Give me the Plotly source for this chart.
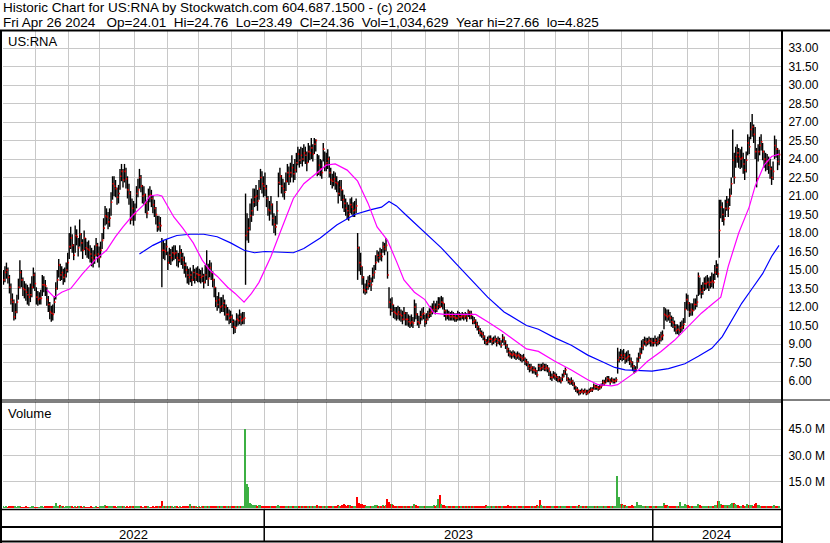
import pandas as pd
import plotly.graph_objects as go

# ---------------- data ----------------
# daily highs / lows / closes, one inner list per calendar month (May 2022 .. Apr 2024)
high_by_month = [
    [15.0, 15.3, 15.6, 15.2, 14.6, 13.9, 13.1, 12.6, 12.3, 13.0, 14.3, 15.8, 15.0, 14.4, 14.1, 13.9, 13.8, 13.6, 13.9, 14.5, 15.2, 14.8],
    [13.6, 13.3, 13.2, 13.4, 14.6, 14.5, 14.2, 13.6, 12.9, 12.4, 12.1, 12.2, 12.9, 14.0, 15.0, 15.9, 15.5, 15.3, 15.1, 15.2, 15.6, 16.4],
    [18.0, 18.5, 17.9, 17.1, 18.6, 18.3, 17.6, 19.1, 18.0, 17.5, 18.2, 17.6, 17.3, 17.4, 17.0, 16.8, 16.6, 17.0, 17.6, 17.2, 16.9],
    [17.3, 18.0, 19.2, 20.2, 20.0, 19.7, 20.0, 21.3, 22.6, 22.6, 22.3, 21.7, 21.9, 23.2, 23.6, 23.2, 23.6, 23.3, 22.6, 22.0, 21.4, 20.8, 20.6],
    [20.4, 21.8, 22.4, 23.2, 22.7, 21.9, 21.8, 21.2, 20.6, 21.6, 21.8, 21.5, 21.0, 20.7, 20.1, 19.4, 19.4, 19.3, 17.6, 17.4, 17.2, 17.5],
    [16.5, 16.8, 16.7, 16.9, 17.0, 17.0, 16.6, 16.4, 17.0, 16.7, 16.4, 16.1, 15.6, 15.3, 15.1, 15.2, 14.9, 15.4, 15.1, 15.2, 15.3],
    [15.1, 15.0, 15.2, 14.7, 15.4, 16.6, 15.5, 15.8, 15.6, 14.9, 14.3, 13.6, 12.9, 13.2, 12.8, 12.8, 13.0, 12.6, 12.2, 12.0, 11.8, 11.7],
    [11.4, 11.0, 10.9, 11.5, 11.4, 11.8, 11.5, 11.6, 11.6, 21.2, 19.6, 19.2, 20.4, 20.8, 21.6, 21.6, 21.9, 21.5, 22.3, 23.2, 23.0, 22.6],
    [22.9, 21.9, 21.0, 20.6, 21.0, 20.4, 19.6, 19.4, 20.6, 22.9, 23.3, 22.7, 22.4, 22.1, 22.9, 23.6, 23.4, 23.7, 24.3, 23.6, 24.0, 24.5],
    [25.0, 24.8, 25.0, 24.9, 25.2, 25.0, 24.6, 25.3, 25.1, 25.7, 25.2, 25.7, 25.6, 24.4, 24.3, 24.0, 23.9, 25.3, 24.6, 24.5],
    [24.8, 24.2, 23.3, 22.8, 23.0, 22.9, 22.6, 22.2, 22.3, 22.3, 21.5, 21.1, 20.8, 20.5, 20.3, 20.8, 20.9, 20.5, 20.6, 20.8, 18.0, 16.9, 16.4],
    [15.3, 14.5, 13.9, 14.2, 14.5, 14.6, 14.4, 15.2, 15.4, 16.2, 16.6, 16.5, 16.8, 16.7, 17.3, 17.2, 17.6, 16.5, 13.6, 12.7],
    [12.8, 12.2, 12.0, 12.0, 12.1, 12.0, 11.8, 11.7, 12.0, 11.6, 11.6, 11.4, 11.3, 11.4, 11.2, 12.6, 12.3, 11.5, 11.3, 11.7, 11.9, 12.0, 11.4],
    [11.5, 11.7, 11.9, 12.1, 12.3, 12.5, 12.3, 12.5, 12.8, 12.8, 12.9, 12.8, 12.3, 11.8, 11.8, 11.7, 11.6, 11.7, 11.6, 11.5, 11.5, 11.7],
    [11.6, 11.5, 11.6, 11.5, 11.6, 11.5, 11.8, 11.7, 11.7, 11.3, 11.2, 11.0, 10.8, 10.5, 10.3, 10.1, 10.0, 9.7, 9.4, 9.6, 9.7],
    [9.7, 9.5, 9.6, 9.7, 9.5, 9.6, 9.5, 9.3, 9.8, 9.6, 9.3, 9.0, 8.7, 8.5, 8.4, 8.5, 8.4, 8.3, 8.4, 8.3, 8.2, 8.1, 8.2],
    [7.9, 7.8, 7.6, 7.4, 7.4, 7.2, 7.2, 7.1, 6.9, 7.4, 7.4, 7.4, 7.5, 7.4, 7.4, 7.3, 7.1, 6.8, 6.6, 6.8, 6.7],
    [6.6, 6.4, 6.4, 6.3, 6.6, 6.9, 7.1, 6.6, 6.3, 6.2, 6.3, 6.1, 5.9, 5.6, 5.5, 5.3, 5.3, 5.4, 5.3, 5.4, 5.3, 5.3],
    [5.4, 5.5, 5.5, 5.8, 5.7, 5.7, 5.6, 5.7, 5.8, 6.1, 6.1, 6.3, 6.4, 6.4, 6.2, 6.3, 6.2, 6.2, 6.3, 8.7, 8.4, 8.6],
    [8.5, 8.6, 8.3, 8.4, 8.5, 8.2, 7.9, 7.6, 7.3, 7.2, 7.9, 8.3, 8.7, 9.3, 9.4, 9.6, 9.5, 9.5, 9.6, 9.5, 9.5],
    [9.5, 9.7, 9.5, 9.6, 9.8, 10.0, 10.1, 12.0, 11.9, 11.8, 11.8, 11.6, 11.3, 11.2, 10.9, 10.6, 10.6, 10.5, 10.8, 10.9, 11.1, 12.4, 13.1],
    [13.0, 12.4, 12.3, 12.3, 12.7, 12.7, 13.0, 14.8, 14.4, 13.8, 14.0, 14.4, 14.5, 14.6, 14.4, 14.5, 14.8, 14.7, 15.4, 15.8, 15.5],
    [20.7, 20.7, 20.5, 20.0, 20.7, 21.0, 20.8, 21.6, 22.5, 26.4, 24.5, 25.0, 25.2, 24.9, 24.8, 25.0, 24.5, 24.0, 24.6, 26.0, 25.8],
    [27.0, 27.66, 26.8, 26.6, 24.9, 25.2, 25.8, 26.0, 25.3, 24.7, 24.5, 24.4, 24.2, 24.0, 23.4, 23.8, 25.9, 25.6, 24.9, 24.76],
]
low_by_month = [
    [13.8, 14.0, 14.3, 13.9, 13.1, 12.2, 11.6, 10.9, 11.0, 11.5, 12.6, 13.5, 13.6, 12.9, 12.7, 12.5, 12.2, 12.1, 12.4, 12.8, 13.5, 13.3],
    [12.2, 12.1, 12.2, 12.2, 12.9, 13.2, 12.9, 12.1, 11.6, 11.0, 10.8, 10.9, 11.5, 12.6, 13.4, 14.4, 14.1, 14.2, 13.8, 14.0, 14.4, 14.8],
    [15.9, 16.7, 16.4, 15.8, 16.4, 17.0, 16.1, 16.9, 16.5, 15.9, 16.6, 16.2, 16.0, 15.9, 15.6, 15.3, 15.2, 15.5, 16.1, 15.6, 15.2],
    [16.0, 16.7, 17.5, 18.6, 18.7, 18.3, 18.5, 19.4, 20.7, 21.0, 20.9, 20.3, 20.4, 21.5, 22.2, 21.7, 22.1, 21.6, 20.8, 20.3, 18.7, 19.0, 18.6],
    [19.0, 20.0, 20.9, 21.6, 21.3, 20.4, 20.3, 19.6, 19.2, 19.8, 20.5, 20.1, 19.6, 19.3, 18.7, 18.1, 18.2, 18.1, 13.6, 15.9, 15.8, 16.2],
    [15.0, 15.5, 15.4, 15.7, 15.8, 15.9, 15.3, 15.2, 15.6, 15.4, 15.1, 14.7, 14.4, 13.9, 13.8, 14.0, 13.7, 14.1, 13.9, 14.1, 14.0],
    [14.0, 13.9, 14.0, 13.5, 13.9, 14.2, 13.7, 14.4, 14.2, 13.6, 12.8, 12.0, 11.7, 11.9, 11.5, 11.6, 11.6, 11.3, 10.9, 10.9, 10.6, 10.7],
    [10.3, 9.8, 9.9, 10.4, 10.5, 10.6, 10.5, 10.6, 10.6, 13.8, 17.4, 17.2, 18.2, 18.9, 19.4, 20.1, 20.2, 19.8, 20.7, 21.5, 21.2, 20.9],
    [21.0, 20.1, 19.4, 19.0, 19.5, 18.6, 18.0, 17.8, 18.7, 20.9, 21.9, 21.2, 20.9, 20.7, 21.4, 22.1, 21.9, 22.1, 22.5, 22.1, 22.3, 22.9],
    [23.5, 23.3, 23.6, 23.4, 23.8, 23.6, 23.0, 23.7, 23.9, 24.0, 23.8, 24.4, 24.6, 22.6, 22.7, 22.6, 22.4, 23.8, 23.0, 23.0],
    [23.2, 22.5, 21.9, 21.6, 21.8, 21.5, 21.3, 20.4, 21.0, 20.6, 20.0, 19.7, 19.4, 19.1, 19.0, 19.6, 19.5, 19.3, 19.3, 19.6, 14.2, 14.9, 14.6],
    [13.8, 13.1, 13.0, 13.1, 13.4, 13.6, 13.3, 14.0, 14.3, 15.0, 15.7, 15.6, 15.8, 15.7, 16.4, 16.2, 16.5, 14.3, 11.9, 11.3],
    [11.6, 11.1, 11.0, 10.9, 11.0, 10.9, 10.8, 10.6, 10.9, 10.5, 10.5, 10.4, 10.3, 10.4, 10.3, 10.8, 11.0, 10.5, 10.3, 10.6, 10.9, 11.0, 10.4],
    [10.6, 10.9, 11.1, 11.2, 11.4, 11.6, 11.4, 11.6, 11.8, 11.9, 12.0, 11.8, 11.2, 10.9, 11.0, 10.9, 10.9, 10.9, 10.9, 10.8, 10.8, 10.9],
    [10.9, 10.9, 11.0, 10.9, 11.0, 10.8, 11.2, 11.0, 11.0, 10.6, 10.6, 10.3, 10.1, 9.8, 9.6, 9.5, 9.3, 9.0, 8.9, 8.9, 9.1],
    [9.1, 8.9, 9.0, 9.1, 8.8, 9.0, 8.9, 8.7, 9.1, 8.9, 8.6, 8.3, 8.0, 7.9, 7.8, 7.9, 7.8, 7.7, 7.8, 7.7, 7.6, 7.5, 7.6],
    [7.3, 7.2, 6.9, 6.7, 6.8, 6.6, 6.6, 6.5, 6.3, 6.8, 6.8, 6.8, 6.9, 6.8, 6.8, 6.7, 6.4, 6.1, 6.0, 6.2, 6.1],
    [6.0, 5.9, 5.9, 5.8, 6.0, 6.3, 6.5, 6.0, 5.8, 5.7, 5.7, 5.6, 5.3, 5.1, 5.0, 4.825, 4.9, 5.0, 4.9, 5.0, 4.85, 4.9],
    [5.0, 5.1, 5.1, 5.3, 5.3, 5.3, 5.2, 5.3, 5.4, 5.6, 5.6, 5.8, 5.9, 5.9, 5.7, 5.9, 5.8, 5.8, 5.9, 6.6, 7.5, 7.7],
    [7.6, 7.7, 7.4, 7.5, 7.6, 7.3, 7.1, 6.8, 6.6, 6.7, 7.0, 7.5, 7.8, 8.2, 8.5, 8.9, 8.8, 8.9, 9.0, 8.8, 8.8],
    [8.8, 9.0, 8.8, 8.9, 9.0, 9.2, 9.3, 10.2, 10.9, 10.8, 10.9, 10.7, 10.4, 10.3, 10.0, 9.8, 9.8, 9.7, 9.9, 10.0, 10.2, 10.7, 11.8],
    [11.7, 11.2, 11.3, 11.3, 11.7, 11.8, 12.0, 12.9, 13.0, 12.7, 13.0, 13.3, 13.4, 13.5, 13.3, 13.5, 13.6, 13.5, 14.2, 14.6, 14.4],
    [16.0, 19.2, 18.9, 18.6, 19.3, 19.8, 19.3, 20.2, 21.1, 22.5, 22.0, 23.3, 23.7, 23.3, 23.2, 23.3, 22.8, 22.3, 22.9, 24.3, 24.4],
    [25.6, 25.8, 25.3, 24.0, 21.7, 23.8, 24.3, 24.7, 23.9, 23.3, 23.0, 23.1, 22.8, 22.4, 21.9, 22.3, 24.0, 24.1, 23.1, 23.49],
]
close_by_month = [
    [14.2, 14.8, 15.0, 14.4, 13.6, 12.6, 12.4, 11.2, 11.6, 12.4, 13.6, 14.8, 14.2, 13.5, 13.4, 13.2, 13.0, 12.8, 13.0, 13.6, 14.6, 13.9],
    [12.8, 12.6, 12.7, 12.7, 13.8, 13.8, 13.7, 12.6, 12.2, 11.6, 11.5, 11.4, 12.4, 13.5, 14.2, 15.4, 14.6, 14.8, 14.4, 14.6, 15.0, 15.6],
    [16.9, 17.6, 17.0, 16.2, 17.8, 17.7, 16.8, 17.9, 17.2, 16.6, 17.6, 16.8, 16.7, 16.6, 16.3, 16.0, 15.8, 16.2, 17.0, 16.3, 16.0],
    [16.6, 17.4, 18.4, 19.4, 19.3, 18.9, 19.2, 20.5, 22.0, 21.8, 21.6, 20.9, 21.2, 22.6, 23.0, 22.3, 23.0, 22.4, 21.5, 21.2, 19.1, 20.0, 19.5],
    [19.6, 21.2, 21.5, 22.5, 21.8, 21.0, 21.1, 20.4, 19.6, 21.0, 21.1, 20.8, 20.3, 20.0, 19.5, 18.5, 18.8, 18.6, 16.6, 16.6, 16.5, 16.9],
    [15.6, 16.2, 16.0, 16.4, 16.3, 16.4, 16.0, 15.8, 16.4, 16.0, 15.8, 15.4, 15.0, 14.6, 14.4, 14.6, 14.2, 14.8, 14.4, 14.7, 14.6],
    [14.6, 14.4, 14.5, 14.0, 14.6, 15.2, 14.3, 15.2, 14.8, 14.2, 13.6, 12.5, 12.2, 12.6, 12.0, 12.1, 12.3, 12.0, 11.4, 11.4, 11.1, 11.2],
    [10.8, 10.4, 10.3, 11.0, 10.9, 11.2, 10.9, 11.0, 11.1, 17.8, 18.1, 18.4, 19.4, 19.8, 20.5, 20.9, 21.0, 20.6, 21.6, 22.5, 22.0, 21.8],
    [21.6, 20.8, 19.9, 19.8, 20.3, 19.2, 18.7, 18.5, 19.8, 22.1, 22.6, 21.8, 21.6, 21.3, 22.2, 22.9, 22.6, 22.9, 23.3, 22.8, 23.1, 23.7],
    [24.4, 23.9, 24.3, 24.0, 24.5, 24.3, 23.7, 24.6, 24.5, 24.9, 24.4, 25.2, 25.5, 22.9, 23.5, 23.2, 22.9, 24.8, 23.5, 23.7],
    [24.0, 22.9, 22.3, 22.2, 22.4, 22.1, 22.0, 21.2, 21.7, 21.5, 20.7, 20.4, 20.0, 19.8, 19.5, 20.3, 20.1, 19.8, 19.9, 20.2, 16.8, 15.6, 15.3],
    [14.4, 13.4, 13.3, 13.6, 13.9, 14.1, 13.8, 14.6, 14.8, 15.6, 16.2, 16.0, 16.3, 16.1, 16.9, 16.7, 17.0, 14.6, 12.4, 11.8],
    [12.2, 11.6, 11.5, 11.4, 11.6, 11.4, 11.3, 11.0, 11.5, 11.0, 11.0, 10.8, 10.7, 10.8, 10.7, 12.0, 11.4, 10.8, 10.7, 11.2, 11.4, 11.5, 10.8],
    [11.0, 11.3, 11.5, 11.6, 11.8, 12.0, 11.8, 12.0, 12.2, 12.0, 12.4, 12.3, 11.7, 11.3, 11.4, 11.3, 11.2, 11.3, 11.2, 11.1, 11.1, 11.3],
    [11.2, 11.2, 11.3, 11.2, 11.3, 11.1, 11.6, 11.3, 11.4, 10.8, 10.9, 10.6, 10.4, 10.1, 9.9, 9.8, 9.6, 9.3, 9.1, 9.2, 9.4],
    [9.4, 9.2, 9.3, 9.4, 9.1, 9.3, 9.2, 8.9, 9.5, 9.2, 8.9, 8.6, 8.3, 8.2, 8.1, 8.2, 8.1, 8.0, 8.1, 8.0, 7.9, 7.8, 7.9],
    [7.6, 7.5, 7.2, 7.0, 7.1, 6.9, 6.9, 6.8, 6.5, 7.2, 7.0, 7.1, 7.2, 7.0, 7.1, 7.0, 6.8, 6.3, 6.3, 6.5, 6.4],
    [6.3, 6.1, 6.2, 6.0, 6.3, 6.6, 6.9, 6.2, 6.0, 5.9, 6.0, 5.8, 5.6, 5.3, 5.3, 5.05, 5.1, 5.2, 5.1, 5.2, 5.0, 5.1],
    [5.2, 5.3, 5.3, 5.6, 5.5, 5.5, 5.4, 5.5, 5.6, 5.9, 5.8, 6.0, 6.2, 6.1, 5.9, 6.1, 6.0, 6.0, 6.1, 7.7, 7.9, 8.1],
    [7.9, 8.1, 7.8, 7.9, 8.0, 7.6, 7.5, 7.2, 6.9, 6.9, 7.6, 7.9, 8.2, 8.7, 8.9, 9.2, 9.1, 9.2, 9.3, 9.2, 9.1],
    [9.1, 9.3, 9.1, 9.2, 9.4, 9.6, 9.7, 11.4, 11.3, 11.2, 11.3, 11.1, 10.8, 10.7, 10.4, 10.1, 10.2, 10.1, 10.3, 10.4, 10.6, 11.8, 12.6],
    [12.3, 11.6, 11.8, 11.7, 12.2, 12.2, 12.4, 14.5, 13.4, 13.2, 13.5, 13.9, 13.9, 14.0, 13.8, 14.0, 14.1, 14.0, 14.8, 15.2, 14.7],
    [18.2, 20.1, 19.5, 19.1, 20.0, 20.5, 20.0, 21.0, 22.0, 23.9, 22.5, 24.2, 24.5, 24.2, 24.0, 24.1, 23.6, 23.1, 23.9, 25.3, 25.0],
    [26.4, 26.6, 26.0, 24.6, 22.4, 24.6, 25.1, 25.4, 24.6, 24.0, 23.8, 23.8, 23.5, 23.2, 22.5, 23.0, 25.1, 24.8, 23.8, 24.36],
]
# daily volume in millions of shares
volume_by_month = [
    [0.6, 0.5, 0.7, 0.5, 0.6, 0.8, 0.6, 0.9, 0.7, 0.5, 0.6, 0.7, 0.5, 0.4, 0.5, 0.6, 0.5, 0.4, 0.5, 0.6, 0.7, 0.5],
    [0.5, 0.4, 0.5, 0.6, 0.8, 0.5, 0.6, 0.7, 0.6, 0.8, 0.7, 0.6, 0.9, 2.7, 1.0, 0.8, 1.8, 0.7, 0.6, 0.5, 0.6, 0.7],
    [0.9, 0.8, 0.6, 0.5, 0.7, 0.5, 0.6, 0.8, 0.6, 0.5, 0.6, 0.5, 0.4, 0.5, 0.5, 0.6, 0.5, 0.4, 0.6, 0.5, 0.5],
    [0.6, 0.7, 0.9, 1.5, 0.8, 0.6, 0.7, 1.0, 1.2, 0.8, 0.6, 0.5, 0.6, 0.9, 0.8, 0.6, 0.7, 0.5, 0.6, 0.5, 1.1, 0.7, 0.6],
    [0.6, 0.7, 0.6, 0.8, 0.6, 0.5, 0.5, 0.6, 0.7, 0.6, 0.5, 0.5, 0.6, 0.5, 0.6, 0.9, 0.7, 0.8, 3.8, 1.4, 0.9, 0.8],
    [0.8, 0.7, 0.6, 0.7, 0.5, 0.6, 0.6, 0.5, 0.6, 0.5, 0.6, 0.7, 0.6, 0.8, 0.7, 2.2, 0.9, 0.7, 0.6, 0.6, 0.5],
    [0.6, 0.5, 0.7, 0.6, 0.8, 1.4, 0.9, 0.8, 0.6, 0.7, 0.9, 1.2, 0.9, 0.7, 0.8, 0.6, 0.7, 0.8, 1.0, 0.7, 0.9, 0.8],
    [0.9, 1.1, 0.8, 0.7, 0.6, 0.8, 0.7, 0.9, 1.2, 45.0, 13.5, 12.0, 2.6, 2.2, 1.8, 1.5, 1.6, 1.4, 1.7, 1.5, 1.3, 1.2],
    [1.3, 1.2, 1.4, 1.1, 1.0, 1.2, 1.3, 1.4, 1.2, 1.6, 1.3, 1.1, 1.0, 1.2, 1.1, 1.0, 0.9, 1.0, 1.1, 0.9, 1.0, 1.2],
    [1.1, 1.0, 0.9, 1.0, 1.2, 0.9, 1.0, 1.1, 0.9, 1.3, 1.0, 1.2, 1.1, 1.8, 1.2, 1.0, 1.1, 1.4, 1.0, 0.9],
    [1.2, 1.4, 1.1, 1.0, 1.2, 1.0, 1.1, 1.5, 1.2, 1.3, 1.6, 2.0, 1.7, 1.4, 1.5, 1.8, 1.3, 1.2, 1.1, 1.4, 6.5, 3.0, 2.2],
    [2.4, 1.8, 1.5, 1.3, 1.4, 1.2, 1.1, 1.4, 1.3, 1.6, 1.5, 1.3, 1.2, 1.4, 1.6, 1.3, 1.5, 5.0, 3.5, 2.2],
    [2.0, 1.6, 1.4, 1.2, 1.3, 1.1, 1.2, 1.0, 1.3, 1.1, 1.0, 1.2, 1.1, 1.0, 1.2, 2.5, 1.5, 1.3, 1.1, 1.2, 1.0, 1.1, 1.3],
    [1.2, 1.1, 1.3, 1.2, 1.4, 1.6, 1.3, 1.5, 5.0, 7.3, 2.4, 1.8, 1.6, 1.4, 1.2, 1.1, 1.0, 1.1, 0.9, 1.0, 1.1, 1.0],
    [1.0, 0.9, 1.1, 1.0, 0.9, 1.0, 1.2, 1.0, 0.9, 1.1, 1.0, 1.2, 1.1, 1.3, 1.2, 1.4, 1.2, 1.3, 1.5, 1.2, 1.1],
    [1.0, 1.1, 0.9, 1.0, 1.2, 1.0, 1.1, 1.3, 1.4, 1.1, 1.2, 1.3, 1.5, 1.2, 1.1, 1.0, 1.2, 1.1, 1.0, 1.2, 1.1, 1.3, 1.2],
    [1.2, 1.1, 1.3, 1.2, 1.0, 1.1, 1.2, 1.3, 1.5, 1.4, 4.5, 1.6, 1.3, 1.2, 1.1, 1.0, 1.2, 1.4, 1.3, 1.1, 1.0],
    [1.1, 1.2, 1.0, 1.3, 1.1, 1.2, 1.4, 1.3, 1.1, 1.0, 1.2, 1.1, 1.3, 1.4, 1.2, 1.5, 1.2, 1.1, 1.0, 1.2, 1.1, 1.0],
    [1.0, 1.1, 0.9, 1.2, 1.0, 1.1, 0.9, 1.0, 1.2, 1.3, 1.1, 1.4, 1.3, 1.2, 1.1, 1.2, 1.0, 1.1, 1.2, 18.0, 6.0, 2.2],
    [2.0, 1.8, 1.5, 1.4, 1.3, 1.2, 1.4, 1.5, 1.3, 1.2, 3.5, 1.8, 1.6, 1.5, 1.4, 1.2, 1.3, 1.1, 1.2, 1.0, 0.9],
    [1.1, 1.2, 1.0, 1.3, 1.2, 1.4, 1.3, 2.6, 1.8, 1.5, 1.3, 1.2, 1.4, 1.3, 1.1, 1.2, 1.0, 1.1, 3.5, 1.4, 1.3, 2.0, 1.8],
    [1.6, 1.4, 1.3, 1.2, 1.3, 1.1, 1.2, 2.2, 1.6, 1.3, 1.2, 1.4, 1.3, 1.2, 1.1, 1.3, 1.4, 1.2, 1.6, 1.8, 4.0],
    [4.0, 2.4, 1.8, 1.6, 1.5, 1.7, 1.4, 1.8, 2.0, 2.8, 3.0, 2.2, 1.8, 1.6, 1.4, 1.3, 1.5, 1.4, 1.3, 2.0, 1.6],
    [1.5, 1.8, 1.4, 2.5, 2.6, 1.8, 1.5, 1.4, 1.3, 1.2, 1.3, 1.4, 1.2, 1.1, 1.3, 1.2, 1.6, 1.4, 1.2, 1.03],
]
# moving averages (trading-day index, price)
ma_fast_idx = [29, 34, 39, 45, 53, 62, 69, 75, 80, 87, 94, 98, 103, 106, 114, 120, 127, 133, 138, 143,
               150, 155, 161, 166, 171, 175, 179, 185, 194, 201, 208, 216, 222, 230, 237, 244, 250, 257, 263, 268,
               275, 282, 288, 295, 304, 316, 324, 333, 342, 350, 358, 369, 380, 391, 398, 407, 411, 418, 425, 431,
               440, 449, 458, 467, 474, 480, 485, 492, 499, 503, 509, 514, 519]
ma_fast_val = [13.4, 12.8, 13.2, 13.5, 14.7, 15.9, 16.6, 17.7, 18.5, 19.5, 20.3, 21.0, 21.1, 21.0, 19.3, 18.4, 17.2, 15.8, 15.0, 14.5,
               13.6, 13.1, 12.4, 13.1, 14.0, 15.0, 16.1, 18.0, 20.8, 22.0, 22.7, 23.5, 23.6, 23.1, 22.2, 20.4, 18.5, 17.4, 15.7, 14.2,
               13.2, 12.6, 11.5, 11.4, 11.4, 11.4, 10.8, 10.1, 9.3, 8.6, 8.4, 7.6, 6.9, 6.1, 5.7, 5.6, 5.7, 6.3, 6.9, 7.6,
               8.4, 9.3, 10.4, 11.5, 12.2, 12.8, 15.3, 18.0, 20.1, 21.8, 23.5, 24.2, 24.4]
ma_slow_idx = [91, 100, 107, 116, 125, 134, 143, 152, 161, 168, 175, 194, 201, 212, 223, 235, 246, 253, 258, 263,
               269, 279, 293, 303, 313, 324, 335, 350, 358, 369, 380, 391, 400, 409, 416, 425, 434, 445, 456, 465,
               474, 481, 487, 494, 501, 508, 514, 519]
ma_slow_val = [16.3, 17.0, 17.4, 17.8, 17.9, 17.9, 17.7, 17.2, 16.6, 16.4, 16.5, 16.4, 16.75, 17.6, 18.65, 19.5, 19.9, 20.1, 20.55, 20.2,
               19.5, 18.4, 16.8, 15.5, 14.2, 12.8, 11.6, 10.5, 10.2, 9.5, 8.9, 8.1, 7.6, 7.1, 6.9, 6.85, 6.8, 7.0, 7.4, 8.0,
               8.65, 9.6, 10.9, 12.3, 13.5, 14.7, 16.1, 17.0]

price_ticks = [6.0, 7.5, 9.0, 10.5, 12.0, 13.5, 15.0, 16.5, 18.0, 19.5, 21.0, 22.5, 24.0, 25.5, 27.0, 28.5, 30.0, 31.5, 33.0]
volume_ticks = [15, 30, 45]
volume_tick_text = ["15.0 M", "30.0 M", "45.0 M"]
header_line1 = "Historic Chart for US:RNA by Stockwatch.com 604.687.1500 - (c) 2024"
header_line2 = ("Fri Apr 26 2024\u00a0\u00a0\u00a0Op=24.01\u00a0\u00a0Hi=24.76\u00a0\u00a0Lo=23.49\u00a0\u00a0"
                "Cl=24.36\u00a0\u00a0Vol=1,034,629\u00a0\u00a0Year hi=27.66\u00a0\u00a0lo=4.825")
symbol_label = "US:RNA"
volume_label = "Volume"

# ---------------- assemble ----------------
dates = pd.bdate_range("2022-05-02", "2024-04-26")
month_keys = []
for d in dates:
    k = (d.year, d.month)
    if not month_keys or month_keys[-1] != k:
        month_keys.append(k)
counts = [sum(1 for d in dates if (d.year, d.month) == k) for k in month_keys]
for name, m in [("high", high_by_month), ("low", low_by_month), ("close", close_by_month), ("vol", volume_by_month)]:
    lens = [len(x) for x in m]
    if lens != counts:
        raise ValueError(f"{name}: {lens} vs {counts}")

flat = lambda m: [v for month in m for v in month]
highs, lows, closes, volumes = flat(high_by_month), flat(low_by_month), flat(close_by_month), flat(volume_by_month)
n = len(dates)
idx = list(range(n))

month_bounds = [i - 0.5 for i in range(1, n) if dates[i].month != dates[i - 1].month]
year_bounds = [i - 0.5 for i in range(1, n) if dates[i].year != dates[i - 1].year]
years = sorted(set(d.year for d in dates))

X0, X1 = -0.3, n + 0.3
FONT = "Liberation Sans, Arial, sans-serif"
GRID = "#c8c8c8"

# pixel helpers for the frame (figure 830x543, plot area x 3..781, y 31..509)
PL, PR, PT, PB = 3, 781, 31, 509
def fx(px):
    return (px - PL) / (PR - PL)
def fy(py):
    return (PB - py) / (PB - PT)
def data_to_fx(v):
    return (v - X0) / (X1 - X0)

fig = go.Figure()

# high-low bars (black) and close ticks (red, to the right of each bar)
bx, by = [], []
for i in idx:
    bx += [i, i, None]
    by += [lows[i], highs[i], None]
cx, cy = [], []
for i in idx:
    cx += [i, i + 0.9, None]
    cy += [closes[i], closes[i], None]
fig.add_trace(go.Scatter(x=bx, y=by, mode="lines", line=dict(color="black", width=1.4),
                         xaxis="x", yaxis="y", hoverinfo="skip", showlegend=False))
fig.add_trace(go.Scatter(x=cx, y=cy, mode="lines", line=dict(color="#ff0000", width=1.6),
                         xaxis="x", yaxis="y", hoverinfo="skip", showlegend=False))
fig.add_trace(go.Scatter(x=ma_slow_idx, y=ma_slow_val, mode="lines", line=dict(color="#0000ff", width=1.2),
                         xaxis="x", yaxis="y", hoverinfo="skip", showlegend=False))
fig.add_trace(go.Scatter(x=ma_fast_idx, y=ma_fast_val, mode="lines", line=dict(color="#ff00ff", width=1.2),
                         xaxis="x", yaxis="y", hoverinfo="skip", showlegend=False))

vcolors = ["#3cb043" if (i == 0 or closes[i] >= closes[i - 1]) else "#ff0000" for i in idx]
fig.add_trace(go.Bar(x=idx, y=volumes, marker=dict(color=vcolors, line=dict(width=0)), width=1.0,
                     xaxis="x2", yaxis="y2", hoverinfo="skip", showlegend=False))

price_lo, price_hi = 4.46, 34.38
vol_lo, vol_hi = -0.57, 60.4

axis_common = dict(range=[X0, X1], tickvals=month_bounds, showticklabels=False, showgrid=True,
                   gridcolor=GRID, gridwidth=1, zeroline=False, showline=False, ticks="")
fig.update_layout(
    width=830, height=543,
    margin=dict(l=PL, r=830 - PR, t=PT, b=543 - PB, pad=0),
    paper_bgcolor="white", plot_bgcolor="white",
    bargap=0, hovermode=False, showlegend=False,
    font=dict(family=FONT, size=12, color="black"),
    xaxis=dict(domain=[0, 1], anchor="y", **axis_common),
    xaxis2=dict(domain=[0, 1], anchor="y2", matches="x", **axis_common),
    yaxis=dict(domain=[fy(400), 1], range=[price_lo, price_hi], side="right", tickvals=price_ticks,
               tickformat=".2f", showgrid=True, gridcolor=GRID, zeroline=False, showline=False,
               ticks="outside", ticklen=4, tickcolor="rgba(0,0,0,0)",
               tickfont=dict(family=FONT, size=12, color="black")),
    yaxis2=dict(domain=[0, fy(402)], range=[vol_lo, vol_hi], side="right", tickvals=volume_ticks,
                ticktext=volume_tick_text, showgrid=True, gridcolor=GRID, zeroline=False, showline=False,
                ticks="outside", ticklen=4, tickcolor="rgba(0,0,0,0)",
                tickfont=dict(family=FONT, size=12, color="black")),
)

shapes = []
def hline(py, x0px, x1px, w):
    shapes.append(dict(type="line", xref="paper", yref="paper", x0=fx(x0px), x1=fx(x1px), y0=fy(py), y1=fy(py),
                       line=dict(color="black", width=w)))
def vline_px(px, y0px, y1px, w):
    shapes.append(dict(type="line", xref="paper", yref="paper", x0=fx(px), x1=fx(px), y0=fy(y0px), y1=fy(y1px),
                       line=dict(color="black", width=w)))

hline(30.5, 0, 830, 2)      # under header
hline(400, 0, 830, 1)       # bottom of price panel
hline(402, 0, 782, 1)       # top of volume panel
hline(509.5, 0, 782, 1.5)   # bottom of volume panel
hline(527, 0, 782, 2)       # date rows separator
hline(541.5, 0, 782, 2)     # bottom frame
vline_px(1, 30, 543, 2)     # left frame
vline_px(782, 30, 543, 2)   # right edge of plot
for yb in year_bounds:
    xf = data_to_fx(yb)
    shapes.append(dict(type="line", xref="paper", yref="paper", x0=xf, x1=xf, y0=fy(509.5), y1=fy(541.5),
                       line=dict(color="black", width=1.5)))
fig.update_layout(shapes=shapes)

ann = []
ann.append(dict(text=header_line1, xref="paper", yref="paper", x=fx(1), y=fy(7.4), xanchor="left", yanchor="middle",
                showarrow=False, font=dict(family=FONT, size=13.5, color="black")))
ann.append(dict(text=header_line2, xref="paper", yref="paper", x=fx(1), y=fy(22.4), xanchor="left", yanchor="middle",
                showarrow=False, font=dict(family=FONT, size=13.5, color="black")))
ann.append(dict(text=symbol_label, xref="paper", yref="paper", x=fx(6), y=fy(42), xanchor="left", yanchor="middle",
                showarrow=False, font=dict(family=FONT, size=13, color="black")))
ann.append(dict(text=volume_label, xref="paper", yref="paper", x=fx(6), y=fy(413), xanchor="left", yanchor="middle",
                showarrow=False, font=dict(family=FONT, size=13, color="black")))
edges = [X0] + year_bounds + [X1]
for k, yr in enumerate(years):
    cxm = (edges[k] + edges[k + 1]) / 2
    ann.append(dict(text=str(yr), xref="paper", yref="paper", x=data_to_fx(cxm), y=fy(534.5), xanchor="center",
                    yanchor="middle", showarrow=False, font=dict(family=FONT, size=13, color="black")))
fig.update_layout(annotations=ann)

fig.write_html("out.html", config={"displayModeBar": False},
               post_script="document.body.style.margin='0px';document.body.style.padding='0px';")
